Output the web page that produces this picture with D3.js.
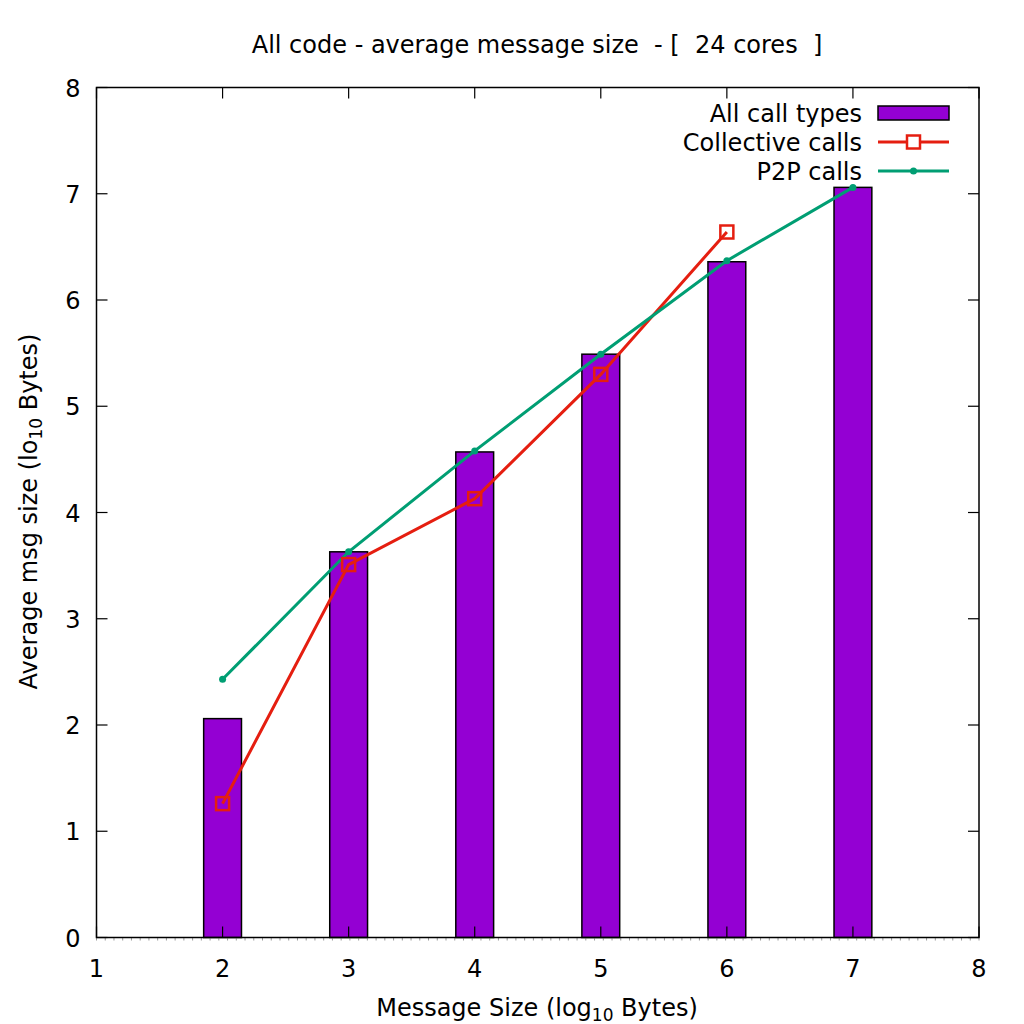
<!DOCTYPE html>
<html>
<head>
<meta charset="utf-8">
<script src="https://cdn.jsdelivr.net/npm/d3@7"></script>
<style>
  body { margin: 0; background: #fff; }
  text { font-family: "DejaVu Sans", sans-serif; fill: #000; }
</style>
</head>
<body>
<svg id="chart" width="1024" height="1024"></svg>
<script>
// data
const sizes = [2, 3, 4, 5, 6, 7];
const allCalls = [2.06, 3.63, 4.57, 5.49, 6.36, 7.06];
const collSizes = [2, 3, 4, 5, 6];
const collCalls = [1.26, 3.51, 4.13, 5.30, 6.64];
const p2pCalls = [2.43, 3.63, 4.58, 5.49, 6.37, 7.06];
const xTicks = [1, 2, 3, 4, 5, 6, 7, 8];
const yTicks = [0, 1, 2, 3, 4, 5, 6, 7, 8];

const purple = "#9400d3", red = "#e51e10", green = "#009e73";

const pLeft = 96.5, pRight = 979, pTop = 87.5, pBottom = 937.5;
const barW = 0.3;
const fs = 24;

const svg = d3.select("#chart");
const x = d3.scaleLinear().domain([1, 8]).range([pLeft, pRight]);
const y = d3.scaleLinear().domain([0, 8]).range([pBottom, pTop]);

// bars
svg.append("g")
  .selectAll("rect")
  .data(sizes)
  .join("rect")
  .attr("x", d => x(d - barW / 2))
  .attr("width", d => x(d + barW / 2) - x(d - barW / 2))
  .attr("y", (d, i) => y(allCalls[i]))
  .attr("height", (d, i) => y(0) - y(allCalls[i]))
  .attr("fill", purple)
  .attr("stroke", "#000")
  .attr("stroke-width", 1.5);

// minor gray ticks under the baseline
const minor = d3.range(0, 102).map(i => 1 + i * 7 / 101);
svg.append("g")
  .selectAll("line")
  .data(minor)
  .join("line")
  .attr("x1", d => x(d)).attr("x2", d => x(d))
  .attr("y1", pBottom).attr("y2", pBottom + 3)
  .attr("stroke", "#999").attr("stroke-width", 1);

// axis frame
svg.append("rect")
  .attr("x", pLeft).attr("y", pTop)
  .attr("width", pRight - pLeft).attr("height", pBottom - pTop)
  .attr("fill", "none").attr("stroke", "#000").attr("stroke-width", 1.5);

// ticks inward on all sides
const tickLen = 11;
const tk = svg.append("g").attr("stroke", "#000").attr("stroke-width", 1.2);
xTicks.forEach(t => {
  tk.append("line").attr("x1", x(t)).attr("x2", x(t)).attr("y1", pBottom).attr("y2", pBottom - tickLen);
  tk.append("line").attr("x1", x(t)).attr("x2", x(t)).attr("y1", pTop).attr("y2", pTop + tickLen);
});
yTicks.forEach(t => {
  tk.append("line").attr("x1", pLeft).attr("x2", pLeft + tickLen).attr("y1", y(t)).attr("y2", y(t));
  tk.append("line").attr("x1", pRight).attr("x2", pRight - tickLen).attr("y1", y(t)).attr("y2", y(t));
});

svg.append("g")
  .selectAll("text")
  .data(xTicks)
  .join("text")
  .attr("x", d => x(d))
  .attr("y", pBottom + 39)
  .attr("text-anchor", "middle")
  .attr("font-size", fs)
  .text(d => d);

svg.append("g")
  .selectAll("text")
  .data(yTicks)
  .join("text")
  .attr("x", pLeft - 16)
  .attr("y", d => y(d) + 9)
  .attr("text-anchor", "end")
  .attr("font-size", fs)
  .text(d => d);

// lines
const lineGen = d3.line().x(d => x(d[0])).y(d => y(d[1]));
const collPts = collSizes.map((s, i) => [s, collCalls[i]]);
const p2pPts = sizes.map((s, i) => [s, p2pCalls[i]]);

svg.append("path")
  .attr("d", lineGen(collPts))
  .attr("fill", "none").attr("stroke", red).attr("stroke-width", 3);
svg.append("path")
  .attr("d", lineGen(p2pPts))
  .attr("fill", "none").attr("stroke", green).attr("stroke-width", 3);

const sq = 13;
svg.append("g")
  .selectAll("rect")
  .data(collPts)
  .join("rect")
  .attr("x", d => x(d[0]) - sq / 2)
  .attr("y", d => y(d[1]) - sq / 2)
  .attr("width", sq).attr("height", sq)
  .attr("fill", "none").attr("stroke", red).attr("stroke-width", 2.5);

svg.append("g")
  .selectAll("circle")
  .data(p2pPts)
  .join("circle")
  .attr("cx", d => x(d[0]))
  .attr("cy", d => y(d[1]))
  .attr("r", 3.5)
  .attr("fill", green);

// legend
const lg = svg.append("g");
const lx0 = 878, lx1 = 949, textX = 862;
const rows = [113, 142, 171];
lg.append("rect").attr("x", lx0).attr("y", rows[0] - 7).attr("width", lx1 - lx0).attr("height", 14)
  .attr("fill", purple).attr("stroke", "#000").attr("stroke-width", 1.5);
lg.append("line").attr("x1", lx0).attr("x2", lx1).attr("y1", rows[1]).attr("y2", rows[1])
  .attr("stroke", red).attr("stroke-width", 3);
lg.append("rect").attr("x", (lx0 + lx1) / 2 - sq / 2).attr("y", rows[1] - sq / 2).attr("width", sq).attr("height", sq)
  .attr("fill", "#fff").attr("stroke", red).attr("stroke-width", 2.5);
lg.append("line").attr("x1", lx0).attr("x2", lx1).attr("y1", rows[2]).attr("y2", rows[2])
  .attr("stroke", green).attr("stroke-width", 3);
lg.append("circle").attr("cx", (lx0 + lx1) / 2).attr("cy", rows[2]).attr("r", 3.5).attr("fill", green);
["All call types", "Collective calls", "P2P calls"].forEach((t, i) => {
  lg.append("text").attr("x", textX).attr("y", rows[i] + 8.5)
    .attr("text-anchor", "end").attr("font-size", fs).text(t);
});

// title and axis labels
svg.append("text")
  .attr("x", 537).attr("y", 53)
  .attr("text-anchor", "middle").attr("font-size", fs)
  .attr("xml:space", "preserve")
  .text("All code - average message size  - [  24 cores  ]");

const xl = svg.append("text")
  .attr("x", 537).attr("y", 1016)
  .attr("text-anchor", "middle").attr("font-size", fs);
xl.append("tspan").text("Message Size (log");
xl.append("tspan").attr("font-size", 17).attr("dy", 5).text("10");
xl.append("tspan").attr("dy", -5).text(" Bytes)");

const yl = svg.append("text")
  .attr("transform", `translate(37, ${(pTop + pBottom) / 2 - 1}) rotate(-90)`)
  .attr("text-anchor", "middle").attr("font-size", fs);
yl.append("tspan").text("Average msg size (lo");
yl.append("tspan").attr("font-size", 17).attr("dy", 5).text("10");
yl.append("tspan").attr("dy", -5).text(" Bytes)");
</script>
</body>
</html>
